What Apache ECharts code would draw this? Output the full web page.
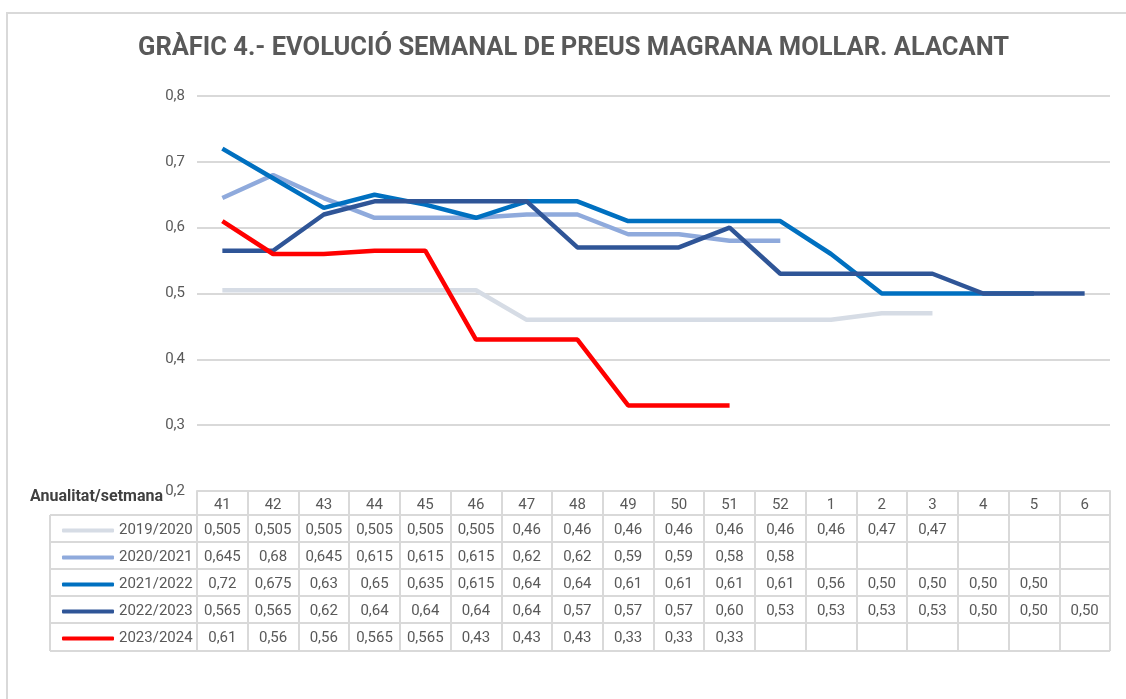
<!DOCTYPE html>
<html>
<head>
<meta charset="utf-8">
<script src="https://cdn.jsdelivr.net/npm/echarts@6/dist/echarts.min.js"></script>
<style>
  html, body { margin: 0; padding: 0; background: #fff; }
  #chart { width: 1126px; height: 699px; }
</style>
</head>
<body>
<div id="chart"></div>
<script>
const weeks = ['41', '42', '43', '44', '45', '46', '47', '48', '49', '50', '51', '52', '1', '2', '3', '4', '5', '6'];
const seasons = ['2019/2020', '2020/2021', '2021/2022', '2022/2023', '2023/2024'];
const prices1920 = [0.505, 0.505, 0.505, 0.505, 0.505, 0.505, 0.46, 0.46, 0.46, 0.46, 0.46, 0.46, 0.46, 0.47, 0.47];
const prices2021 = [0.645, 0.68, 0.645, 0.615, 0.615, 0.615, 0.62, 0.62, 0.59, 0.59, 0.58, 0.58];
const prices2122 = [0.72, 0.675, 0.63, 0.65, 0.635, 0.615, 0.64, 0.64, 0.61, 0.61, 0.61, 0.61, 0.56, 0.50, 0.50, 0.50, 0.50];
const prices2223 = [0.565, 0.565, 0.62, 0.64, 0.64, 0.64, 0.64, 0.57, 0.57, 0.57, 0.60, 0.53, 0.53, 0.53, 0.53, 0.50, 0.50, 0.50];
const prices2324 = [0.61, 0.56, 0.56, 0.565, 0.565, 0.43, 0.43, 0.43, 0.33, 0.33, 0.33];
const colors = ['#d6dce5', '#8faadc', '#0070c0', '#2f5597', '#ff0000'];

const allPrices = [prices1920, prices2021, prices2122, prices2223, prices2324];
const gridCol = '#d9d9d9';
const txt = '#595959';

// 0.5 -> "0,50", 0.505 -> "0,505"
function fmt(v) {
    const dec = Math.round(v * 1000) % 10 !== 0 ? 3 : 2;
    return v.toFixed(dec).replace('.', ',');
}

const chart = echarts.init(document.getElementById('chart'));

// table rows (y positions of horizontal rules)
const rowLines = [515, 542, 569, 596, 623, 651];
const tableGraphics = rowLines.map(y => ({
    type: 'line',
    shape: { x1: 50, y1: y, x2: 1110, y2: y },
    style: { stroke: gridCol, lineWidth: 2 },
    silent: true
}));
tableGraphics.push(
    { type: 'line', shape: { x1: 50, y1: 515, x2: 50, y2: 651 }, style: { stroke: gridCol, lineWidth: 2 }, silent: true },
    { type: 'rect', shape: { x: 7, y: 13, width: 1130, height: 700 }, style: { fill: 'none', stroke: gridCol, lineWidth: 2 }, silent: true },
    {
        type: 'text', right: 1126 - 163, top: 489,
        style: { text: 'Anualitat/setmana', font: 'bold 16px Roboto', fill: '#404040' }
    }
);

chart.setOption({
    animation: false,
    title: {
        text: 'GRÀFIC 4.- EVOLUCIÓ SEMANAL DE PREUS MAGRANA MOLLAR. ALACANT',
        left: 133,
        top: 31,
        textStyle: { fontFamily: 'Roboto', fontSize: 25.5, fontWeight: 'bold', color: txt }
    },
    legend: {
        data: seasons,
        orient: 'vertical',
        left: 57,
        top: 512,
        itemWidth: 52,
        itemHeight: 4,
        itemGap: 0,
        icon: 'roundRect',
        textStyle: { fontFamily: 'Roboto', fontSize: 15, color: txt, lineHeight: 27, height: 27 }
    },
    grid: { left: 197, right: 16, top: 96, bottom: 208 },
    xAxis: {
        type: 'category',
        data: weeks,
        boundaryGap: true,
        axisLine: { lineStyle: { color: gridCol, width: 2 } },
        axisTick: { show: true, interval: 0, length: 160, lineStyle: { color: gridCol, width: 2 } },
        axisLabel: {
            interval: 0,
            margin: 2,
            formatter: (val, idx) => ['{h|' + val + '}'].concat(
                allPrices.map(s => '{v|' + (s[idx] != null ? fmt(s[idx]) : ' ') + '}')
            ).join('\n'),
            rich: {
                h: { fontFamily: 'Roboto', fontSize: 15, color: txt, lineHeight: 24 },
                v: { fontFamily: 'Roboto', fontSize: 15, color: txt, lineHeight: 27 }
            }
        }
    },
    yAxis: {
        type: 'value',
        min: 0.2,
        max: 0.8,
        interval: 0.1,
        axisLine: { show: false },
        axisTick: { show: false },
        axisLabel: {
            margin: 12,
            fontFamily: 'Roboto',
            fontSize: 15,
            color: txt,
            formatter: v => v.toFixed(1).replace('.', ',')
        },
        splitLine: { lineStyle: { color: gridCol, width: 2 } }
    },
    series: seasons.map((name, i) => ({
        name: name,
        type: 'line',
        data: allPrices[i],
        symbol: 'none',
        color: colors[i],
        lineStyle: { width: 4.5, color: colors[i] }
    })),
    graphic: tableGraphics
});
</script>
</body>
</html>
